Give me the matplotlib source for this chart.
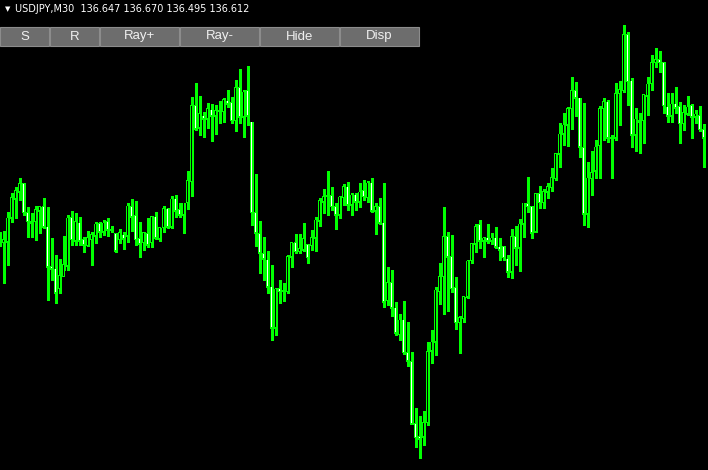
import matplotlib
matplotlib.use("Agg")
import matplotlib.pyplot as plt
from matplotlib.patches import Rectangle

symbol = "USDJPY,M30"
last_quote = [136.647, 136.670, 136.495, 136.612]
buttons = ["S", "R", "Ray+", "Ray-", "Hide", "Disp"]

opens = [
    136.212, 136.192, 136.196, 136.292, 136.368, 136.396, 136.428, 136.312, 136.276, 136.276,
    136.320, 136.336, 136.256, 136.096, 136.088, 136.008, 136.056, 136.100, 136.292, 136.200,
    136.272, 136.204, 136.180, 136.204, 136.220, 136.268, 136.236, 136.276, 136.248, 136.228,
    136.204, 136.224, 136.220, 136.336, 136.300, 136.208, 136.192, 136.228, 136.192, 136.296,
    136.208, 136.252, 136.328, 136.256, 136.368, 136.324, 136.304, 136.352, 136.436, 136.740,
    136.652, 136.700, 136.688, 136.724, 136.700, 136.720, 136.716, 136.760, 136.752, 136.680,
    136.812, 136.696, 136.800, 136.676, 136.312, 136.228, 136.148, 136.124, 136.016, 135.852,
    136.008, 135.996, 135.996, 136.136, 136.192, 136.156, 136.164, 136.184, 136.180, 136.212,
    136.280, 136.356, 136.376, 136.380, 136.336, 136.304, 136.372, 136.416, 136.344, 136.384,
    136.356, 136.400, 136.372, 136.432, 136.320, 136.336, 136.272, 135.960, 136.032, 135.932,
    135.824, 135.884, 135.752, 135.716, 135.468, 135.416, 135.416, 135.472, 135.760, 135.796,
    135.996, 136.056, 136.216, 136.136, 136.012, 135.872, 135.888, 135.976, 136.120, 136.188,
    136.264, 136.200, 136.212, 136.200, 136.212, 136.176, 136.176, 136.128, 136.076, 136.216,
    136.172, 136.268, 136.348, 136.336, 136.236, 136.388, 136.352, 136.396, 136.412, 136.448,
    136.548, 136.628, 136.664, 136.728, 136.800, 136.772, 136.572, 136.308, 136.448, 136.480,
    136.580, 136.728, 136.756, 136.612, 136.612, 136.788, 136.800, 137.024, 136.840, 136.624,
    136.676, 136.680, 136.780, 136.828, 136.912, 136.924, 136.912, 136.736, 136.700, 136.748,
    136.736, 136.668, 136.708, 136.740, 136.696, 136.700, 136.647,
]
highs = [
    136.236, 136.240, 136.316, 136.392, 136.416, 136.452, 136.432, 136.336, 136.312, 136.340,
    136.336, 136.372, 136.336, 136.212, 136.144, 136.128, 136.220, 136.304, 136.320, 136.312,
    136.296, 136.216, 136.240, 136.236, 136.276, 136.276, 136.284, 136.292, 136.260, 136.232,
    136.248, 136.236, 136.352, 136.368, 136.360, 136.276, 136.236, 136.292, 136.300, 136.316,
    136.252, 136.340, 136.332, 136.380, 136.384, 136.352, 136.352, 136.480, 136.776, 136.832,
    136.780, 136.716, 136.752, 136.748, 136.744, 136.760, 136.772, 136.804, 136.776, 136.844,
    136.888, 136.804, 136.900, 136.676, 136.468, 136.280, 136.216, 136.160, 136.104, 136.012,
    136.044, 136.032, 136.144, 136.192, 136.228, 136.228, 136.272, 136.188, 136.244, 136.296,
    136.372, 136.408, 136.480, 136.416, 136.352, 136.380, 136.428, 136.436, 136.392, 136.392,
    136.432, 136.444, 136.440, 136.452, 136.352, 136.372, 136.432, 136.096, 136.084, 135.956,
    135.908, 135.960, 135.876, 135.756, 135.532, 135.500, 135.520, 135.796, 135.844, 136.016,
    136.112, 136.336, 136.236, 136.224, 136.056, 135.900, 135.976, 136.124, 136.192, 136.268,
    136.284, 136.216, 136.268, 136.232, 136.256, 136.212, 136.180, 136.144, 136.248, 136.260,
    136.288, 136.352, 136.456, 136.340, 136.392, 136.420, 136.408, 136.432, 136.492, 136.552,
    136.672, 136.712, 136.736, 136.856, 136.836, 136.772, 136.752, 136.516, 136.560, 136.604,
    136.740, 136.772, 136.764, 136.624, 136.832, 136.840, 137.064, 137.036, 136.852, 136.732,
    136.712, 136.784, 136.856, 136.944, 136.972, 136.960, 136.916, 136.792, 136.792, 136.816,
    136.756, 136.744, 136.780, 136.748, 136.724, 136.740, 136.670,
]
lows = [
    136.180, 136.032, 136.104, 136.276, 136.292, 136.364, 136.304, 136.216, 136.216, 136.204,
    136.232, 136.252, 135.964, 136.044, 135.952, 135.992, 136.084, 136.084, 136.184, 136.184,
    136.184, 136.156, 136.180, 136.104, 136.192, 136.216, 136.224, 136.220, 136.236, 136.156,
    136.192, 136.168, 136.196, 136.240, 136.184, 136.136, 136.164, 136.176, 136.176, 136.208,
    136.200, 136.236, 136.252, 136.252, 136.296, 136.296, 136.232, 136.328, 136.380, 136.644,
    136.624, 136.616, 136.652, 136.600, 136.628, 136.672, 136.676, 136.736, 136.672, 136.640,
    136.672, 136.616, 136.664, 136.264, 136.180, 136.072, 136.044, 135.992, 135.804, 135.824,
    135.952, 135.960, 135.992, 136.096, 136.152, 136.152, 136.160, 136.112, 136.164, 136.160,
    136.260, 136.312, 136.304, 136.324, 136.248, 136.292, 136.344, 136.324, 136.304, 136.324,
    136.336, 136.364, 136.356, 136.316, 136.228, 136.268, 135.936, 135.944, 135.900, 135.824,
    135.804, 135.748, 135.700, 135.468, 135.376, 135.332, 135.384, 135.464, 135.712, 135.744,
    135.948, 135.908, 135.920, 135.996, 135.848, 135.752, 135.876, 135.972, 136.112, 136.156,
    136.172, 136.136, 136.192, 136.188, 136.172, 136.124, 136.124, 136.056, 136.052, 136.104,
    136.080, 136.216, 136.316, 136.212, 136.236, 136.332, 136.332, 136.372, 136.400, 136.444,
    136.496, 136.584, 136.580, 136.648, 136.700, 136.536, 136.264, 136.256, 136.384, 136.452,
    136.452, 136.604, 136.596, 136.452, 136.604, 136.664, 136.796, 136.744, 136.576, 136.560,
    136.552, 136.592, 136.704, 136.804, 136.896, 136.876, 136.712, 136.676, 136.676, 136.712,
    136.592, 136.644, 136.704, 136.612, 136.672, 136.640, 136.495,
]
closes = [
    136.192, 136.204, 136.292, 136.372, 136.400, 136.428, 136.312, 136.276, 136.272, 136.324,
    136.336, 136.256, 136.096, 136.088, 135.992, 136.060, 136.104, 136.292, 136.204, 136.276,
    136.200, 136.184, 136.212, 136.224, 136.268, 136.236, 136.272, 136.244, 136.244, 136.160,
    136.232, 136.208, 136.340, 136.296, 136.204, 136.188, 136.232, 136.184, 136.296, 136.212,
    136.252, 136.328, 136.256, 136.368, 136.320, 136.304, 136.352, 136.440, 136.740, 136.648,
    136.708, 136.688, 136.728, 136.700, 136.720, 136.716, 136.764, 136.748, 136.680, 136.812,
    136.696, 136.796, 136.700, 136.312, 136.232, 136.152, 136.128, 136.016, 135.852, 136.008,
    135.996, 136.000, 136.136, 136.192, 136.156, 136.168, 136.208, 136.132, 136.212, 136.284,
    136.360, 136.376, 136.380, 136.336, 136.304, 136.376, 136.416, 136.344, 136.384, 136.356,
    136.396, 136.376, 136.432, 136.320, 136.336, 136.272, 135.956, 136.032, 135.932, 135.832,
    135.884, 135.752, 135.720, 135.468, 135.412, 135.408, 135.472, 135.756, 135.796, 136.004,
    136.056, 136.216, 136.136, 136.008, 135.872, 135.892, 135.976, 136.120, 136.188, 136.256,
    136.200, 136.212, 136.200, 136.212, 136.176, 136.164, 136.132, 136.076, 136.216, 136.172,
    136.268, 136.352, 136.336, 136.232, 136.388, 136.352, 136.396, 136.416, 136.452, 136.548,
    136.628, 136.664, 136.728, 136.800, 136.772, 136.576, 136.308, 136.452, 136.472, 136.576,
    136.728, 136.756, 136.612, 136.608, 136.788, 136.804, 137.024, 136.836, 136.624, 136.688,
    136.680, 136.784, 136.828, 136.912, 136.924, 136.912, 136.740, 136.700, 136.748, 136.732,
    136.668, 136.712, 136.736, 136.696, 136.708, 136.644, 136.612,
]

lime = "#00ff00"
W, H = 708, 470
y0, y1 = 135.284, 137.164
px = (y1 - y0) / H  # price per pixel

fig = plt.figure(figsize=(W / 100, H / 100), dpi=100, facecolor="black")
ax = fig.add_axes([0, 0, 1, 1])
ax.set_facecolor("black")
ax.set_axis_off()

x = list(range(len(opens)))
ax.vlines(x, lows, highs, color=lime, linewidth=0.75, antialiased=False, zorder=1)

# body: lime outline 3px wide, 1px inner fill (white = bear, black = bull)
bottoms = [min(o, c) for o, c in zip(opens, closes)]
tops = [max(o, c) for o, c in zip(opens, closes)]
ax.bar(x, [t - b + px for t, b in zip(tops, bottoms)],
       bottom=[b - px / 2 for b in bottoms], width=0.75, color=lime,
       linewidth=0, antialiased=False, zorder=2)
inner_h = [max(t - b - px, 0) for t, b in zip(tops, bottoms)]
faces = ["white" if o > c else "black" for o, c in zip(opens, closes)]
ax.bar(x, inner_h, bottom=[b + px / 2 for b in bottoms], width=0.25, color=faces,
       linewidth=0, antialiased=False, zorder=3)

ax.set_xlim(0.125, 177.125)
ax.set_ylim(y0, y1)

# header line
fig.text(5 / W, 1 - 9 / H, "\u25bc", color="white", fontsize=5, va="center",
         family="DejaVu Sans")
fig.text(15 / W, 1 - 12.5 / H,
         symbol + "  " + " ".join(f"{v:.3f}" for v in last_quote),
         color="white", fontsize=7, family="DejaVu Sans", va="baseline")

# button bar
edges = [0, 50, 100, 180, 260, 340, 420]
top, bottom = 27, 46
for i, lab in enumerate(buttons):
    x0, x1 = edges[i], edges[i + 1] - 1
    fig.add_artist(Rectangle((x0 / W, 1 - bottom / H), (x1 - x0) / W, (bottom - top) / H,
                             transform=fig.transFigure, facecolor="#6d6d6d",
                             edgecolor="#8c8c8c", linewidth=0.8))
    fig.text((x0 + x1) / 2 / W, 1 - (top + bottom) / 2 / H, lab, color="#f0f0f0",
             fontsize=9.5, family="Liberation Sans", ha="center", va="center")

fig.savefig("out.png", dpi=100, facecolor="black")
